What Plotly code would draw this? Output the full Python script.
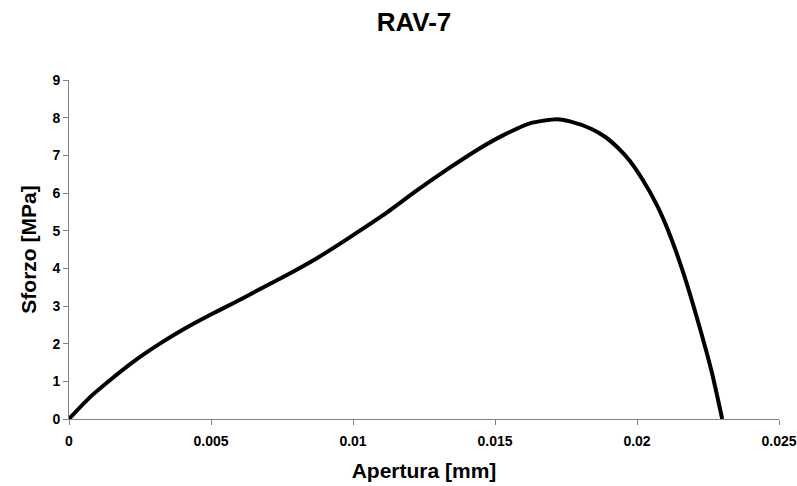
import plotly.graph_objects as go

# Data
apertura = [0.0, 0.00074, 0.00144, 0.00232, 0.0032, 0.00408, 0.00496, 0.00585, 0.00673,
            0.00754, 0.00873, 0.0099, 0.01106, 0.01225, 0.01342, 0.01447, 0.01528,
            0.01623, 0.01718, 0.01764, 0.0184, 0.0189, 0.0193, 0.01975, 0.0202,
            0.0207, 0.0211, 0.0216, 0.0222, 0.02264, 0.0230]
sforzo = [0.0, 0.58, 1.03, 1.55, 2.00, 2.40, 2.76, 3.10, 3.45,
          3.77, 4.27, 4.83, 5.41, 6.07, 6.68, 7.19, 7.53,
          7.85, 7.96, 7.90, 7.70, 7.48, 7.22, 6.85, 6.35,
          5.68, 5.00, 3.95, 2.45, 1.22, 0.0]

x_ticks = [0, 0.005, 0.01, 0.015, 0.02, 0.025]
x_tick_labels = ["0", "0.005", "0.01", "0.015", "0.02", "0.025"]
y_ticks = [0, 1, 2, 3, 4, 5, 6, 7, 8, 9]

FONT = "Liberation Sans, Arial, sans-serif"

fig = go.Figure()
fig.add_trace(go.Scatter(
    x=apertura, y=sforzo, mode="lines",
    line=dict(color="black", width=4, shape="spline", smoothing=0.6),
    showlegend=False, hoverinfo="skip",
))

fig.update_layout(
    width=797, height=486,
    margin=dict(l=69, r=18, t=80, b=67, autoexpand=False),
    paper_bgcolor="white", plot_bgcolor="white",
    title=dict(text="<b>RAV-7</b>", x=414/797, xanchor="center",
               y=1 - 22/486, yanchor="middle",
               font=dict(family=FONT, size=26, color="black")),
    font=dict(family=FONT, color="black"),
)
fig.update_xaxes(
    range=[0, 0.025], tickvals=x_ticks, ticktext=x_tick_labels,
    automargin=False,
    showline=True, linecolor="#808080", linewidth=1,
    ticks="outside", ticklen=5, tickcolor="#808080", tickwidth=1,
    ticklabelstandoff=4,
    showgrid=False, zeroline=False,
    tickfont=dict(family=FONT, size=14, color="black", weight="bold"),
    title=dict(text="<b>Apertura [mm]</b>", font=dict(family=FONT, size=21, color="black"),
               standoff=15),
)
fig.update_yaxes(
    range=[0, 9], tickvals=y_ticks,
    automargin=False,
    showline=True, linecolor="#808080", linewidth=1,
    ticks="outside", ticklen=5, tickcolor="#808080", tickwidth=1,
    showgrid=False, zeroline=False,
    tickfont=dict(family=FONT, size=14, color="black", weight="bold"),
    title=dict(text="<b>Sforzo [MPa]</b>", font=dict(family=FONT, size=21, color="black"),
               standoff=10),
)

fig.write_html("out.html")
